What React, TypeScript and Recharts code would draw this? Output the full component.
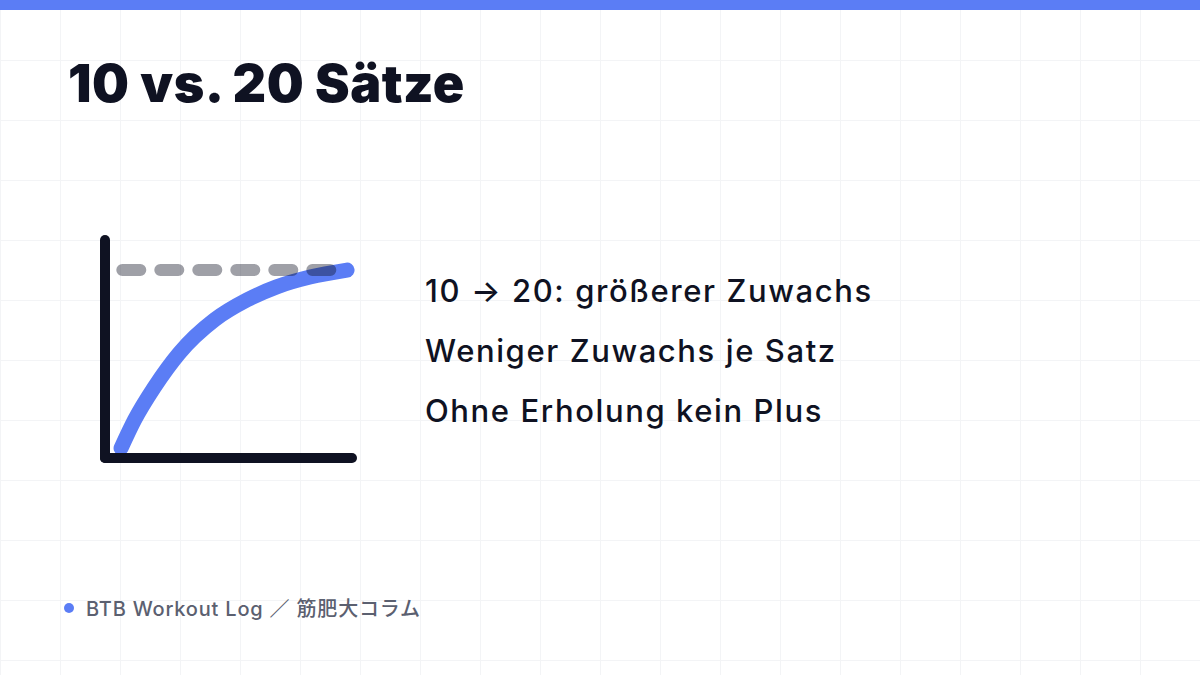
import { LineChart, Line, XAxis, YAxis } from "recharts";

// slide texts
const title = "10 vs. 20 Sätze";
const bullets = [
    "10 → 20: größerer Zuwachs",
    "Weniger Zuwachs je Satz",
    "Ohne Erholung kein Plus",
];
const footer = "BTB Workout Log ／ 筋肥大コラム";

// diminishing-returns curve (volume vs. growth, arbitrary units)
const curveVolume = [0.65, 1.2, 2.0, 3.0, 4.45, 5.75, 6.95, 8.3, 9.8];
const curveGrowth = [0.45, 1.75, 3.25, 4.8, 6.35, 7.25, 7.85, 8.3, 8.62];

// plateau (dashed ceiling)
const plateauVolume = [0.7, 9.2];
const plateauGrowth = [8.62, 8.62];

const curveData = curveVolume.map((x, i) => ({ x, y: curveGrowth[i] }));
const plateauData = plateauVolume.map((x, i) => ({ x, y: plateauGrowth[i] }));

const INK = "#0f1222";
const BLUE = "#5b7df5";

export default function App() {
    return (
        <div
            style={{
                position: "relative",
                width: 1200,
                height: 675,
                overflow: "hidden",
                background: "#ffffff",
                backgroundImage:
                    "linear-gradient(to right, #f3f4f6 1px, transparent 1px), linear-gradient(to bottom, #f3f4f6 1px, transparent 1px)",
                backgroundSize: "60px 60px",
                fontFamily: "Inter, 'Noto Sans CJK JP', sans-serif",
            }}
        >
            <style>{`body{margin:0}`}</style>

            {/* top bar */}
            <div style={{ position: "absolute", left: 0, top: 0, width: 1200, height: 10, background: BLUE }} />

            {/* title */}
            <div
                style={{
                    position: "absolute",
                    left: 68,
                    top: 52,
                    fontSize: 52,
                    fontWeight: 900,
                    color: INK,
                    lineHeight: "64px",
                    letterSpacing: 0.5,
                }}
            >
                {title}
            </div>

            {/* chart */}
            <div style={{ position: "absolute", left: 40, top: 200 }}>
                <LineChart width={340} height={300} margin={{ top: 40, right: 28, left: 64, bottom: 41 }}>
                    <XAxis
                        type="number"
                        dataKey="x"
                        domain={[0, 10]}
                        height={1}
                        tick={false}
                        tickLine={false}
                        axisLine={{ stroke: INK, strokeWidth: 10, strokeLinecap: "round" }}
                    />
                    <YAxis
                        type="number"
                        dataKey="y"
                        domain={[0, 10]}
                        width={1}
                        tick={false}
                        tickLine={false}
                        axisLine={{ stroke: INK, strokeWidth: 10, strokeLinecap: "round" }}
                    />
                    <Line
                        data={curveData}
                        dataKey="y"
                        type="monotone"
                        stroke={BLUE}
                        strokeWidth={15}
                        strokeLinecap="round"
                        dot={false}
                        activeDot={false}
                        isAnimationActive={false}
                    />
                    <Line
                        data={plateauData}
                        dataKey="y"
                        type="linear"
                        stroke={INK}
                        strokeOpacity={0.4}
                        strokeWidth={12}
                        strokeLinecap="round"
                        strokeDasharray="18 20"
                        dot={false}
                        activeDot={false}
                        isAnimationActive={false}
                    />
                </LineChart>
            </div>

            {/* bullet texts */}
            {bullets.map((b, i) => (
                <div
                    key={b}
                    style={{
                        position: "absolute",
                        left: 425,
                        top: 271 + i * 60,
                        fontSize: 31,
                        fontWeight: 500,
                        color: INK,
                        lineHeight: "40px",
                        letterSpacing: 1.6,
                        whiteSpace: "nowrap",
                    }}
                >
                    {b}
                </div>
            ))}

            {/* footer */}
            <div
                style={{
                    position: "absolute",
                    left: 64,
                    top: 593,
                    display: "flex",
                    alignItems: "center",
                    gap: 12,
                    fontSize: 20,
                    fontWeight: 500,
                    color: "#5b6070",
                    letterSpacing: 0.8,
                }}
            >
                <span style={{ width: 10, height: 10, borderRadius: 5, background: BLUE, display: "inline-block" }} />
                <span>{footer}</span>
            </div>
        </div>
    );
}
